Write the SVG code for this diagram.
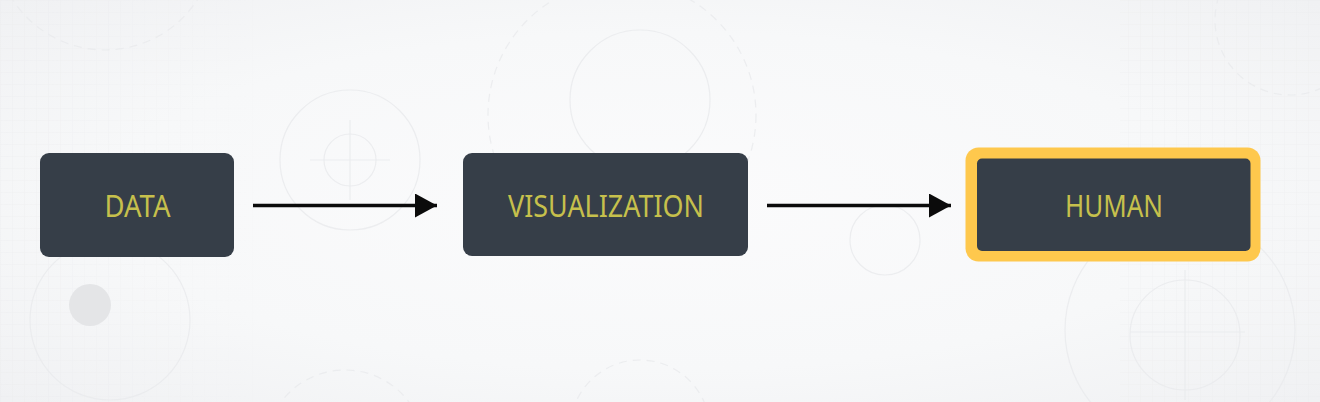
<svg xmlns="http://www.w3.org/2000/svg" width="1320" height="402" viewBox="0 0 1320 402">
  <defs>
    <radialGradient id="bg" cx="0.5" cy="0.5" r="0.7">
      <stop offset="0" stop-color="#FBFBFC"/>
      <stop offset="0.6" stop-color="#F7F8F9"/>
      <stop offset="1" stop-color="#F0F1F3"/>
    </radialGradient>
    <pattern id="grid" width="12" height="12" patternUnits="userSpaceOnUse">
      <path d="M12 0H0V12" fill="none" stroke="#E9EAEC" stroke-width="0.8"/>
    </pattern>
    <linearGradient id="fadeL" x1="0" x2="1">
      <stop offset="0" stop-color="#fff" stop-opacity="1"/>
      <stop offset="1" stop-color="#fff" stop-opacity="0"/>
    </linearGradient>
    <mask id="gridMask">
      <rect width="1320" height="402" fill="#000"/>
      <rect x="0" y="0" width="260" height="402" fill="url(#fadeL)" opacity="0.6"/>
      <rect x="1120" y="0" width="200" height="402" fill="#fff" opacity="0.45"/>
    </mask>
    <marker id="arrow" viewBox="0 0 22 24" refX="22" refY="12" markerWidth="22" markerHeight="24" markerUnits="userSpaceOnUse" orient="auto">
      <path d="M0 0L22 12L0 24Z" fill="#0B0B0B"/>
    </marker>
  </defs>
  <style>
    .box { fill: #363E48; }
    .lbl { font-family: "Noto Sans", "DejaVu Sans", sans-serif; font-size: 30px; fill: #C6C04C; text-anchor: middle; }
    .deco { fill: none; stroke: #E9EAEC; stroke-width: 1.2; opacity: 0.8; }
    .dash { stroke-dasharray: 8 6; }
    .conn { stroke: #0B0B0B; stroke-width: 3.4; fill: none; }
  </style>

  <g id="background">
    <rect width="1320" height="402" fill="url(#bg)"/>
    <rect width="1320" height="402" fill="url(#grid)" mask="url(#gridMask)"/>
    <circle class="deco dash" cx="105" cy="-60" r="110" stroke="#E4E5E8"/>
    <circle class="deco dash" cx="622" cy="115" r="134" stroke="#EBECEE"/>
    <circle class="deco" cx="640" cy="100" r="70" stroke="#F1F2F3"/>
    <circle class="deco" cx="350" cy="160" r="26" stroke="#EEEFF1"/>
    <path class="deco" d="M350 120V200M310 160H390" stroke="#F0F1F2"/>
    <circle class="deco" cx="350" cy="160" r="70" stroke="#F2F3F4"/>
    <circle cx="90" cy="305" r="21" fill="#E4E5E7"/>
    <circle class="deco" cx="110" cy="320" r="80" stroke="#F1F2F3"/>
    <circle class="deco dash" cx="1290" cy="20" r="75" stroke="#E6E7E9"/>
    <circle class="deco" cx="1180" cy="330" r="115" stroke="#ECEDEF"/>
    <circle class="deco" cx="1185" cy="335" r="55" stroke="#EAEBED"/>
    <path class="deco" d="M1185 270V400M1130 332H1245" stroke="#EAEBED"/>
    <circle class="deco" cx="885" cy="240" r="35" stroke="#F1F2F3"/>
    <circle class="deco dash" cx="640" cy="430" r="70" stroke="#EDEEF0"/>
    <circle class="deco dash" cx="345" cy="450" r="80" stroke="#F0F1F2"/>
  </g>

  <g id="connectors">
    <line class="conn" x1="253" y1="205.5" x2="437" y2="205.5" marker-end="url(#arrow)"/>
    <line class="conn" x1="767" y1="205.5" x2="951" y2="205.5" marker-end="url(#arrow)"/>
  </g>

  <g id="node-data">
    <rect class="box" x="40" y="153" width="194" height="104" rx="9"/>
    <text class="lbl" x="137.5" y="217" textLength="66" lengthAdjust="spacingAndGlyphs">DATA</text>
  </g>

  <g id="node-visualization">
    <rect class="box" x="463" y="153" width="285" height="103" rx="9"/>
    <text class="lbl" x="606" y="217" textLength="196" lengthAdjust="spacingAndGlyphs">VISUALIZATION</text>
  </g>

  <g id="node-human">
    <rect x="965.5" y="147.5" width="295" height="114" rx="13" fill="#FEC84D"/>
    <rect class="box" x="977" y="158.5" width="273.5" height="92.5" rx="5"/>
    <text class="lbl" x="1114" y="217" textLength="98" lengthAdjust="spacingAndGlyphs">HUMAN</text>
  </g>
</svg>
